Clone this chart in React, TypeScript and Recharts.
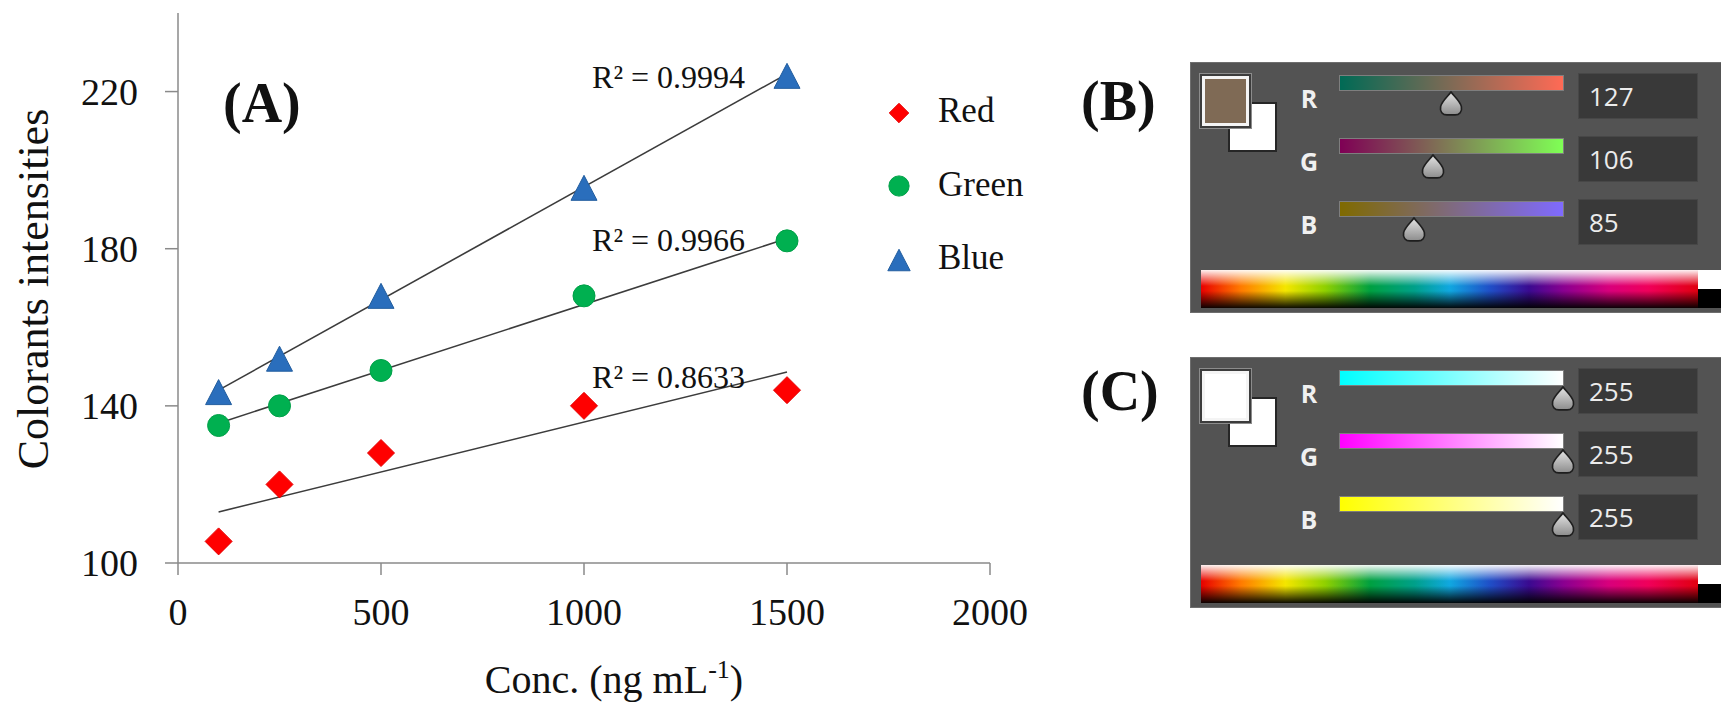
import React from 'react';
import { ScatterChart, Scatter, XAxis, YAxis, ReferenceLine, Legend } from 'recharts';

// ---- panel A data ----
const concentrations = [100, 250, 500, 1000, 1500];
const redValues = [105.5, 120, 128, 140, 144];
const greenValues = [135, 140, 149, 168, 182];
const blueValues = [143.5, 152, 168, 195.5, 224];

// trend lines: value at first and last concentration
const trendEnds = [100, 1500];
const redTrend = [113, 148.6];
const greenTrend = [135.6, 182.6];
const blueTrend = [144, 224.5];

const seriesNames = ['Red', 'Green', 'Blue'];
const rSquared = ['0.8633', '0.9966', '0.9994'];

const xTicks = [0, 500, 1000, 1500, 2000];
const yTicks = [100, 140, 180, 220];

// ---- panels B and C (colour picker readouts) ----
const channels = ['R', 'G', 'B'];
const colourB = [127, 106, 85];
const colourC = [255, 255, 255];

const SERIF = "'Liberation Serif', 'Times New Roman', serif";
const UI = "'Open Sans', 'DejaVu Sans', sans-serif";
const AXIS = '#8a8a8a';

const toPoints = (vals: number[]) => concentrations.map((x, i) => ({ x, y: vals[i] }));

const series = [
  { name: seriesNames[0], values: redValues, trend: redTrend, fill: '#ff0000', stroke: '#e60000', kind: 'diamond' },
  { name: seriesNames[1], values: greenValues, trend: greenTrend, fill: '#00b050', stroke: '#00a048', kind: 'circle' },
  { name: seriesNames[2], values: blueValues, trend: blueTrend, fill: '#2a6ebc', stroke: '#235e9f', kind: 'triangle' },
];

// where the R² notes sit, in data units (left edge / baseline)
const noteX = 1020;
const noteY = [144.5, 179.4, 220.9];

function Marker({ cx, cy, kind, fill, stroke, scale = 1 }: any) {
  if (kind === 'diamond') {
    const h = 13.5 * scale;
    return <polygon points={`${cx},${cy - h} ${cx + h},${cy} ${cx},${cy + h} ${cx - h},${cy}`} fill={fill} stroke={stroke} />;
  }
  if (kind === 'circle') {
    return <circle cx={cx} cy={cy} r={11 * scale} fill={fill} stroke={stroke} />;
  }
  const w = 13 * scale;
  const h = 12.5 * scale;
  return <polygon points={`${cx},${cy - h} ${cx + w},${cy + h} ${cx - w},${cy + h}`} fill={fill} stroke={stroke} strokeLinejoin="round" />;
}

const renderLegend = () => (
  <div style={{ fontFamily: SERIF, fontSize: 35, color: '#111' }}>
    {series.map((s) => (
      <div key={s.name} style={{ height: 73.5, display: 'flex', alignItems: 'center' }}>
        <svg width={26} height={26} style={{ display: 'block' }}>
          <Marker cx={13} cy={13} kind={s.kind} fill={s.fill} stroke={s.stroke} scale={s.kind === 'diamond' ? 0.72 : s.kind === 'circle' ? 0.92 : 0.86} />
        </svg>
        <span style={{ marginLeft: 26, lineHeight: 1, position: 'relative', top: -2 }}>{s.name}</span>
      </div>
    ))}
  </div>
);

const XTitle = () => (
  <text x={614} y={693} textAnchor="middle" fontFamily={SERIF} fontSize={40} fill="#111">
    Conc. (ng mL
    <tspan dy={-15} fontSize={26}>-1</tspan>
    <tspan dy={15}>)</tspan>
  </text>
);

const YTitle = () => (
  <text x={48} y={289} transform="rotate(-90, 48, 289)" textAnchor="middle" fontFamily={SERIF} fontSize={44} fill="#111">
    Colorants intensities
  </text>
);

function NoteText(p: any) {
  return (
    <text x={p.cx} y={p.cy} fontFamily={SERIF} fontSize={32} fill="#111">
      {p.payload.text}
    </text>
  );
}

function Thumb() {
  return (
    <svg width={28} height={27} viewBox="0 0 26 26" style={{ display: 'block' }}>
      <defs>
        <linearGradient id="thumbGrad" x1="0" y1="0" x2="0" y2="1">
          <stop offset="0" stopColor="#e4e4e4" />
          <stop offset="1" stopColor="#8c8c8c" />
        </linearGradient>
      </defs>
      <path d="M13 2 C16 6 22 11 23 16 C24 21 21 24 17 24 L9 24 C5 24 2 21 3 16 C4 11 10 6 13 2 Z" fill="url(#thumbGrad)" stroke="#1e1e1e" strokeWidth={1.6} />
    </svg>
  );
}

const rgb = (v: number[]) => `rgb(${v[0]},${v[1]},${v[2]})`;

const SPECTRUM =
  'linear-gradient(to bottom, rgba(255,255,255,0.95) 0%, rgba(255,255,255,0) 42%, rgba(0,0,0,0) 55%, rgba(0,0,0,0.95) 100%), ' +
  'linear-gradient(to right, #e80000 0%, #ff7a00 8%, #f4e600 17%, #8fd000 25%, #00a040 34%, #00a08a 43%, #10a8e0 50%, #1f50c8 58%, #3a0a90 66%, #8a0090 73%, #d8007c 82%, #f0005a 90%, #e00010 100%)';

function ColorPanel({ top, values }: { top: number; values: number[] }) {
  const rows = [13, 76, 139];
  const barLeft = 149;
  const barWidth = 223;
  return (
    <div
      style={{
        position: 'absolute', left: 1190, top, width: 531, height: 251, background: '#535353',
        border: '1px solid #6e6e6e', borderRight: 'none', boxSizing: 'border-box', fontFamily: UI,
      }}
    >
      <div style={{ position: 'absolute', left: 37, top: 39, width: 49, height: 50, background: '#fff', border: '2px solid #262626', boxSizing: 'border-box' }} />
      <div style={{ position: 'absolute', left: 8, top: 10, width: 53, height: 56, border: '1px solid #8c8c8c', padding: 2, boxSizing: 'border-box', background: '#3c3c3c' }}>
        <div style={{ width: '100%', height: '100%', border: '3px solid #f4f4f4', boxSizing: 'border-box', background: rgb(values) }} />
      </div>
      {channels.map((c, i) => {
        const lo = values.map((v, k) => (k === i ? 0 : v));
        const hi = values.map((v, k) => (k === i ? 255 : v));
        const rowTop = rows[i];
        return (
          <React.Fragment key={c}>
            <div style={{ position: 'absolute', left: 100, top: rowTop + 8, width: 36, height: 28, lineHeight: '28px', textAlign: 'center', color: '#f0f0f0', fontSize: 25, fontWeight: 700 }}>{c}</div>
            <div style={{ position: 'absolute', left: barLeft, top: rowTop, width: barWidth, height: 14, background: `linear-gradient(to right, ${rgb(lo)}, ${rgb(hi)})`, outline: '1px solid rgba(255,255,255,0.25)' }} />
            <div style={{ position: 'absolute', left: barLeft + (values[i] / 255) * barWidth - 14, top: rowTop + 14 }}>
              <Thumb />
            </div>
            <div style={{ position: 'absolute', left: 387, top: rowTop - 3, width: 120, height: 46, background: '#393939', border: '1px solid #474747', boxSizing: 'border-box', color: '#ececec', fontSize: 26, lineHeight: '44px', paddingLeft: 10 }}>{values[i]}</div>
          </React.Fragment>
        );
      })}
      <div style={{ position: 'absolute', left: 10, top: 207, width: 497, height: 38, background: SPECTRUM }} />
      <div style={{ position: 'absolute', left: 507, top: 207, width: 24, height: 19, background: '#fff' }} />
      <div style={{ position: 'absolute', left: 507, top: 226, width: 24, height: 19, background: '#000' }} />
    </div>
  );
}

export default function App() {
  const notes = rSquared.map((r, i) => ({ x: noteX, y: noteY[i], text: `R\u00B2 = ${r}` }));
  return (
    <div style={{ position: 'absolute', left: 0, top: 0, width: 1721, height: 709, background: '#fff', overflow: 'hidden' }}>
      <div style={{ position: 'absolute', left: 0, top: 0 }}>
        <ScatterChart width={1060} height={709} margin={{ top: 13, right: 70, bottom: 0, left: 0 }}>
          <XAxis
            type="number"
            dataKey="x"
            domain={[0, 2000]}
            ticks={xTicks}
            interval={0}
            height={146}
            tickSize={12}
            tickMargin={23}
            axisLine={{ stroke: AXIS, strokeWidth: 1.5 }}
            tickLine={{ stroke: AXIS, strokeWidth: 1.5 }}
            tick={{ fontSize: 38, fill: '#111', fontFamily: SERIF }}
            label={{ content: XTitle }}
            allowDataOverflow
          />
          <YAxis
            type="number"
            dataKey="y"
            domain={[100, 240]}
            ticks={yTicks}
            interval={0}
            width={178}
            tickSize={13}
            tickMargin={27}
            axisLine={{ stroke: AXIS, strokeWidth: 1.5 }}
            tickLine={{ stroke: AXIS, strokeWidth: 1.5 }}
            tick={{ fontSize: 38, fill: '#111', fontFamily: SERIF }}
            label={{ content: YTitle }}
            allowDataOverflow
          />
          {series.map((s) => (
            <ReferenceLine
              key={`trend-${s.name}`}
              segment={[{ x: trendEnds[0], y: s.trend[0] }, { x: trendEnds[1], y: s.trend[1] }]}
              stroke="#3c3c3c"
              strokeWidth={1.6}
              ifOverflow="visible"
            />
          ))}
          {series.map((s) => (
            <Scatter
              key={s.name}
              name={s.name}
              data={toPoints(s.values)}
              isAnimationActive={false}
              shape={(p: any) => <Marker cx={p.cx} cy={p.cy} kind={s.kind} fill={s.fill} stroke={s.stroke} />}
            />
          ))}
          <Scatter data={notes} legendType="none" isAnimationActive={false} shape={NoteText} />
          <Legend content={renderLegend} layout="vertical" align="center" verticalAlign="middle" wrapperStyle={{ left: 886, top: 76, width: 170 }} />
        </ScatterChart>
      </div>
      <svg width={1721} height={709} style={{ position: 'absolute', left: 0, top: 0, pointerEvents: 'none' }}>
        <text x={223} y={122} fontFamily={SERIF} fontSize={56} fontWeight="bold" fill="#111">(A)</text>
        <text x={1081} y={120} fontFamily={SERIF} fontSize={56} fontWeight="bold" fill="#111">(B)</text>
        <text x={1081} y={410} fontFamily={SERIF} fontSize={56} fontWeight="bold" fill="#111">(C)</text>
      </svg>
      <ColorPanel top={62} values={colourB} />
      <ColorPanel top={357} values={colourC} />
    </div>
  );
}
